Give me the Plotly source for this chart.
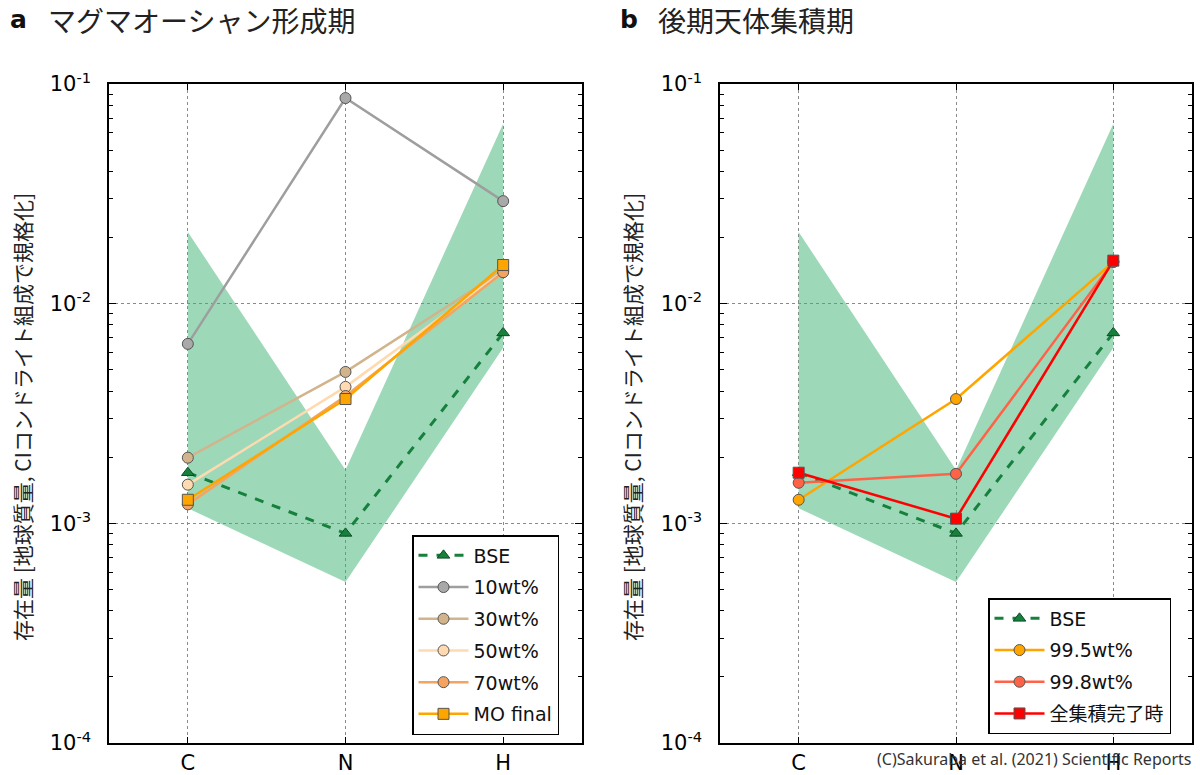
import plotly.graph_objects as go

# ---------------- data ----------------
elements = ["C", "N", "H"]
xpos = [0, 1, 2]

band_upper = [0.0212, 0.00175, 0.066]
band_lower = [0.00117, 0.00054, 0.0063]

bse = [0.00170, 0.00090, 0.00736]

# panel a (magma ocean formation)
wt10 = [0.00656, 0.0863, 0.0293]
wt30 = [0.00199, 0.00489, 0.0142]
wt50 = [0.00150, 0.00418, 0.0140]
wt70 = [0.00122, 0.00380, 0.0139]
mo_final = [0.00128, 0.00368, 0.0150]

# panel b (late accretion)
wt995 = [0.00128, 0.00368, 0.0155]
wt998 = [0.00153, 0.00168, 0.0155]
all_final = [0.00170, 0.00105, 0.0157]

ytickvals = [1e-4, 1e-3, 1e-2, 1e-1]
yticktext = ["10<sup>-4</sup>", "10<sup>-3</sup>", "10<sup>-2</sup>", "10<sup>-1</sup>"]
minor_vals = [k * 10.0 ** e for e in (-4, -3, -2) for k in range(2, 10)]

title_a = "マグマオーシャン形成期"
title_b = "後期天体集積期"
ylabel = "存在量 [地球質量, CIコンドライト組成で規格化]"
credit = "(C)Sakuraba et al. (2021) Scientific Reports"

W, H = 1200, 775
BAND = "rgba(60,179,113,0.5)"
BSE_COL = "#17803d"
EDGE = "#555555"

fig = go.Figure()


def add_panel(xa, ya, series, legend, tag):
    fig.add_trace(go.Scatter(
        x=xpos + xpos[::-1], y=band_upper + band_lower[::-1],
        fill="toself", fillcolor=BAND, line=dict(width=0), mode="lines",
        hoverinfo="skip", showlegend=False, xaxis=xa, yaxis=ya))
    fig.add_trace(go.Scatter(
        x=xpos, y=bse, mode="lines+markers", name="BSE",
        line=dict(color=BSE_COL, width=3, dash="dash"),
        marker=dict(symbol="triangle-up", size=11, color=BSE_COL,
                    line=dict(color="#0d4d24", width=1)),
        legend=legend, legendgroup=tag + "bse", xaxis=xa, yaxis=ya))
    for i, (name, vals, lc, mc, sym) in enumerate(series):
        fig.add_trace(go.Scatter(
            x=xpos, y=vals, mode="lines+markers", name=name,
            line=dict(color=lc, width=2.5),
            marker=dict(symbol=sym, size=11, color=mc,
                        line=dict(color=EDGE, width=1)),
            legend=legend, legendgroup=tag + str(i), xaxis=xa, yaxis=ya))


series_a = [
    ("10wt%", wt10, "#9e9e9e", "#a9a9a9", "circle"),
    ("30wt%", wt30, "#d2b48c", "#d2b48c", "circle"),
    ("50wt%", wt50, "#ffdab0", "#ffdab0", "circle"),
    ("70wt%", wt70, "#f4a460", "#f4a460", "circle"),
    ("MO final", mo_final, "#ffa500", "#ffa500", "square"),
]
series_b = [
    ("99.5wt%", wt995, "#ffa500", "#ffa500", "circle"),
    ("99.8wt%", wt998, "#ff6347", "#ff6347", "circle"),
    ("全集積完了時", all_final, "#ff0000", "#ff0000", "square"),
]

add_panel("x", "y", series_a, "legend", "a")
add_panel("x2", "y2", series_b, "legend2", "b")

ydom = [1 - 743 / H, 1 - 84 / H]
tickfont = dict(family="DejaVu Sans", size=21, color="black")


def xaxis(dom, anchor):
    return dict(domain=dom, anchor=anchor, range=[-0.5, 2.5], tickmode="array",
                tickvals=xpos, automargin=False,
                ticktext=elements, showline=True, linecolor="black", linewidth=1.5,
                mirror="allticks", ticks="inside", ticklen=6, tickcolor="black",
                showgrid=True, gridcolor="#8a8a8a", griddash="dot", gridwidth=1,
                zeroline=False, tickfont=tickfont, ticklabelstandoff=0)


def yaxis(anchor):
    return dict(domain=ydom, type="log", range=[-4, -1], tickmode="array",
                tickvals=ytickvals, ticktext=yticktext, anchor=anchor,
                automargin=False,
                showline=True, linecolor="black", linewidth=1.5, mirror="allticks",
                ticks="inside", ticklen=7, tickcolor="black",
                minor=dict(tickmode="array", tickvals=minor_vals, ticks="inside",
                           ticklen=4, tickcolor="black", showgrid=False),
                showgrid=True, gridcolor="#8a8a8a", griddash="dot", gridwidth=1,
                zeroline=False, tickfont=tickfont, ticklabelstandoff=12)


legend_common = dict(bgcolor="white", bordercolor="black", borderwidth=1.5,
                     font=dict(family="DejaVu Sans, Noto Sans CJK JP", size=19, color="#111"),
                     xanchor="left", yanchor="top", tracegroupgap=4,
                     itemwidth=50)

fig.update_layout(
    width=W, height=H, margin=dict(l=0, r=0, t=0, b=0, autoexpand=False),
    paper_bgcolor="white", plot_bgcolor="white",
    xaxis=xaxis([109 / W, 582 / W], "y"),
    yaxis=yaxis("x"),
    xaxis2=xaxis([720 / W, 1192 / W], "y2"),
    yaxis2=yaxis("x2"),
    legend=dict(x=412 / W, y=1 - 535 / H, **legend_common),
    legend2=dict(x=988 / W, y=1 - 598 / H, **legend_common),
    showlegend=True,
)

ann = []
for px, letter, title in [(8, "a", title_a), (618, "b", title_b)]:
    ann.append(dict(x=px / W, y=1 - 20 / H, xref="paper", yref="paper",
                    xanchor="left", yanchor="middle", showarrow=False,
                    text="<b>" + letter + "</b>",
                    font=dict(family="DejaVu Sans", size=25, color="#111")))
    ann.append(dict(x=(px + 38) / W, y=1 - 20 / H, xref="paper", yref="paper",
                    xanchor="left", yanchor="middle", showarrow=False,
                    text=title,
                    font=dict(family="Noto Sans CJK JP", size=28, color="#222")))
for px in (22, 632):
    ann.append(dict(x=px / W, y=1 - 417 / H, xref="paper", yref="paper",
                    xanchor="center", yanchor="middle", showarrow=False,
                    text=ylabel, textangle=-90,
                    font=dict(family="Noto Sans CJK JP", size=21, color="#222")))
ann.append(dict(x=1193 / W, y=1 - 759 / H, xref="paper", yref="paper",
                xanchor="right", yanchor="middle", showarrow=False, text=credit,
                font=dict(family="Noto Sans", size=16, color="#333")))
fig.update_layout(annotations=ann)

fig.write_html("out.html")
